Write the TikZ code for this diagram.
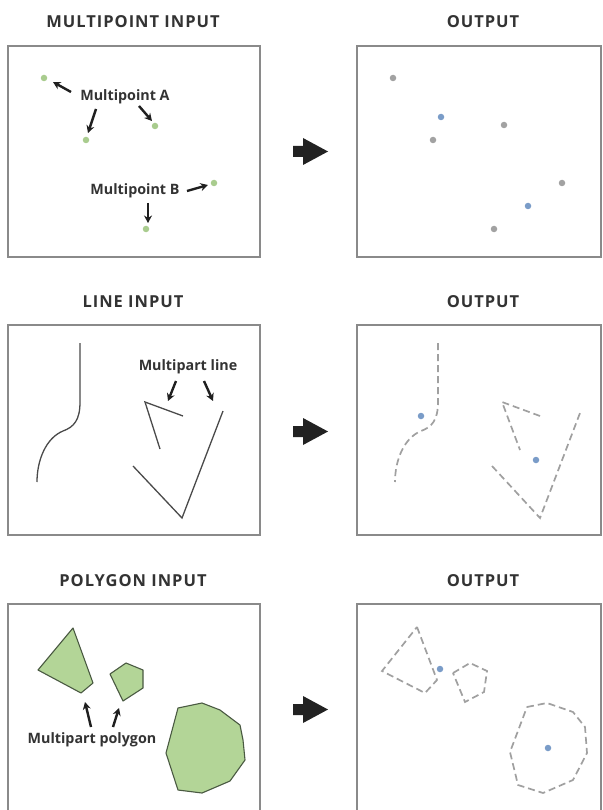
\documentclass[tikz,border=0pt]{standalone}
\usepackage{fontspec}
\setmainfont{Open Sans}
\newfontfamily\titlefont[LetterSpace=6]{Open Sans}
\usetikzlibrary{arrows.meta}
\definecolor{txt}{HTML}{333333}
\definecolor{frame}{HTML}{8A8A8A}
\definecolor{gpt}{HTML}{A9CC8E}
\definecolor{grpt}{HTML}{A2A2A2}
\definecolor{bpt}{HTML}{7A9CC8}
\definecolor{polyfill}{HTML}{B3D597}
\definecolor{polyline}{HTML}{4A5A42}
\definecolor{inline}{HTML}{4A4A4A}
\definecolor{dashc}{HTML}{A0A0A0}
\definecolor{bigarrow}{HTML}{222222}
\begin{document}
\begin{tikzpicture}[x=1pt,y=-1pt,
  panel/.style={draw=frame,line width=1.3pt},
  title/.style={text=txt,font=\titlefont\bfseries\fontsize{16.5}{19}\selectfont,inner sep=0pt},
  lbl/.style={text=txt,font=\bfseries\fontsize{14.3}{17}\selectfont,inner sep=0pt},
  dotg/.style={circle,fill=gpt,inner sep=0pt,minimum size=6.5pt},
  dotgr/.style={circle,fill=grpt,inner sep=0pt,minimum size=6.5pt},
  dotb/.style={circle,fill=bpt,inner sep=0pt,minimum size=6.5pt},
  pointer/.style={-{Stealth[length=7.5pt,width=8pt]},line width=2.4pt,txt!60!black},
  inpath/.style={draw=inline,line width=1.3pt},
  outpath/.style={draw=dashc,line width=1.7pt,dash pattern=on 7pt off 4pt},
  poly/.style={draw=polyline,fill=polyfill,line width=1.1pt,line join=round},
  bigarr/.style={fill=bigarrow}
]
\useasboundingbox (0,0) rectangle (602,810);
\fill[white] (0,0) rectangle (602,810);

% ---------- Row 1: multipoint ----------
\node[title] (t1) at (133,22) {MULTIPOINT INPUT};
\node[title] (t2) at (483,22) {OUTPUT};
\draw[panel] (8,46) rectangle (260,257);
\draw[panel] (357,46) rectangle (601,257);

\node[dotg] (a1) at (44,78) {};
\node[dotg] (a2) at (86,140) {};
\node[dotg] (a3) at (155,126) {};
\node[dotg] (b1) at (214,183) {};
\node[dotg] (b2) at (146,229) {};

\node[lbl] (la) at (125,97) {Multipoint A};
\node[lbl] (lb) at (135,191) {Multipoint B};

\coordinate (pa1s) at (71,92);  \coordinate (pa1e) at (53,82);
\coordinate (pa2s) at (96,109); \coordinate (pa2e) at (88,133);
\coordinate (pa3s) at (139,106);\coordinate (pa3e) at (152,121);
\coordinate (pb1s) at (187,191);\coordinate (pb1e) at (208,185);
\coordinate (pb2s) at (148,203);\coordinate (pb2e) at (148,223);
\draw[pointer] (pa1s) -- (pa1e);
\draw[pointer] (pa2s) -- (pa2e);
\draw[pointer] (pa3s) -- (pa3e);
\draw[pointer] (pb1s) -- (pb1e);
\draw[pointer] (pb2s) -- (pb2e);

\fill[bigarr] (293,146) -- (303,146) -- (303,138) -- (328,151.5) -- (303,165) -- (303,157) -- (293,157) -- cycle;

\node[dotgr] (o1) at (393,78) {};
\node[dotgr] (o2) at (433,140) {};
\node[dotgr] (o3) at (504,125) {};
\node[dotgr] (o4) at (562,183) {};
\node[dotgr] (o5) at (494,229) {};
\node[dotb] (c1) at (441,117) {};
\node[dotb] (c2) at (528,206) {};

% ---------- Row 2: line ----------
\node[title] (t3) at (133,302) {LINE INPUT};
\node[title] (t4) at (483,302) {OUTPUT};
\draw[panel] (8,325) rectangle (260,535);
\draw[panel] (357,325) rectangle (601,535);

\draw[inpath] (80,343) -- (80,402) .. controls (80,420) and (74,427) .. (63,431) .. controls (46,438) and (37,460) .. (37,482);
\draw[inpath,line join=miter] (183,416) -- (145,402) -- (160,449);
\draw[inpath,line join=miter] (133,466) -- (182,518) -- (223,411);

\node[lbl] (ll) at (188,367) {Multipart line};
\coordinate (pl1s) at (176,381); \coordinate (pl1e) at (168,401);
\coordinate (pl2s) at (204,381); \coordinate (pl2e) at (213,401);
\draw[pointer] (pl1s) -- (pl1e);
\draw[pointer] (pl2s) -- (pl2e);

\fill[bigarr] (293,426) -- (303,426) -- (303,418) -- (328,431.5) -- (303,445) -- (303,437) -- (293,437) -- cycle;

\draw[outpath] (438,343) -- (438,402) .. controls (438,420) and (432,427) .. (421,431) .. controls (404,438) and (395,460) .. (395,482);
\draw[outpath] (540,416) -- (502,402) -- (520,450);
\draw[outpath] (492,466) -- (540,518) -- (580,413);
\node[dotb] (c3) at (421,416) {};
\node[dotb] (c4) at (536,460) {};

% ---------- Row 3: polygon ----------
\node[title] (t5) at (133,581) {POLYGON INPUT};
\node[title] (t6) at (483,581) {OUTPUT};
\draw[panel] (8,811) -- (8,604) -- (260,604) -- (260,811);
\draw[panel] (357,811) -- (357,604) -- (601,604) -- (601,811);

\draw[poly] (73,628) -- (93,683) -- (81,693) -- (38,670) -- cycle;
\draw[poly] (110,674) -- (126,663) -- (143,670) -- (143,688) -- (123,701) -- cycle;
\draw[poly] (178,708) -- (202,703) -- (220,710) -- (240,725) -- (243,740) -- (245,760) -- (230,781) -- (202,793) -- (178,790) -- (166,753) -- cycle;

\node[lbl] (lp) at (92,740) {Multipart polygon};
\coordinate (pp1s) at (91,727); \coordinate (pp1e) at (85,702);
\coordinate (pp2s) at (113,727); \coordinate (pp2e) at (119,708);
\draw[pointer] (pp1s) -- (pp1e);
\draw[pointer] (pp2s) -- (pp2e);

\fill[bigarr] (293,704) -- (303,704) -- (303,696) -- (328,709.5) -- (303,723) -- (303,715) -- (293,715) -- cycle;

\draw[outpath] (417,627) -- (437,680) -- (425,693) -- (382,671) -- cycle;
\draw[outpath] (453,673) -- (470,663) -- (487,671) -- (484,692) -- (465,702) -- cycle;
\draw[outpath] (527,707) -- (547,703) -- (573,712) -- (585,727) -- (587,753) -- (573,780) -- (543,793) -- (518,785) -- (510,752) -- cycle;
\node[dotb] (c5) at (440,669) {};
\node[dotb] (c6) at (548,748) {};
\end{tikzpicture}
\end{document}
